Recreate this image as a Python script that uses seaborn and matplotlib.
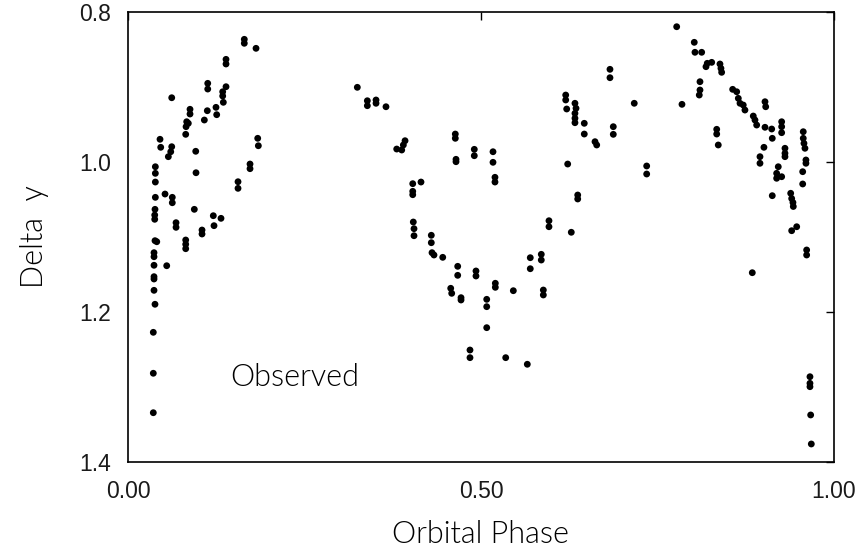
import matplotlib
matplotlib.use("Agg")
import matplotlib.pyplot as plt
import seaborn as sns
import pandas as pd

# ---- data ----
phase_left = [0.1647, 0.1647, 0.1813, 0.1388, 0.1388, 0.1129, 0.1129, 0.1388, 0.1341, 0.1341,
              0.1350, 0.0619, 0.0878, 0.0878, 0.1123, 0.1246, 0.1256, 0.1081, 0.0831, 0.0854,
              0.0822, 0.0817, 0.0453, 0.0463, 0.0619, 0.0605, 0.0571, 0.0959, 0.1837, 0.1846,
              0.0387, 0.0387, 0.0387, 0.0963, 0.1728, 0.1728, 0.1558, 0.1558, 0.0387, 0.0524,
              0.0627, 0.0627, 0.0382, 0.0939, 0.0378, 0.0378, 0.1208, 0.1317, 0.1218, 0.0680,
              0.0680, 0.1048, 0.1048, 0.0382, 0.0407, 0.0817, 0.0817, 0.0817, 0.0368, 0.0368,
              0.0368, 0.0548, 0.0368, 0.0368, 0.0368, 0.0382, 0.0358, 0.0358, 0.0358]
delta_left = [0.8364, 0.8417, 0.8484, 0.8631, 0.8693, 0.8951, 0.9027, 0.8996, 0.9063, 0.9120,
              0.9204, 0.9143, 0.9297, 0.9360, 0.9316, 0.9271, 0.9369, 0.9440, 0.9463, 0.9484,
              0.9529, 0.9631, 0.9697, 0.9804, 0.9796, 0.9863, 0.9929, 0.9857, 0.9684, 0.9783,
              1.0063, 1.0151, 1.0267, 1.0143, 1.0027, 1.0089, 1.0263, 1.0351, 1.0471, 1.0427,
              1.0471, 1.0543, 1.0631, 1.0631, 1.0707, 1.0764, 1.0716, 1.0751, 1.0849, 1.0809,
              1.0871, 1.0907, 1.0960, 1.1049, 1.1063, 1.1040, 1.1097, 1.1156, 1.1209, 1.1263,
              1.1377, 1.1383, 1.1529, 1.1560, 1.1711, 1.1897, 1.2271, 1.2817, 1.3343]

phase_mid = [0.3248, 0.3390, 0.3390, 0.3513, 0.3513, 0.3654, 0.3806, 0.3877, 0.3924, 0.3900,
             0.4636, 0.4636, 0.4646, 0.4646, 0.4905, 0.4905, 0.5170, 0.5170, 0.5198, 0.5198,
             0.4033, 0.4033, 0.4033, 0.4150, 0.4041, 0.4051, 0.4051, 0.4296, 0.4296, 0.4306,
             0.4334, 0.4458, 0.4670, 0.4670, 0.4929, 0.4929, 0.4571, 0.4585, 0.4717, 0.4717,
             0.5203, 0.5203, 0.5081, 0.5081, 0.5081, 0.4844, 0.4844, 0.5350, 0.5656, 0.5458,
             0.5698, 0.5698, 0.5854, 0.5854, 0.5883, 0.5883, 0.5963, 0.5963, 0.6200, 0.6200,
             0.6214, 0.6331, 0.6346, 0.6331, 0.6331, 0.6331, 0.6463, 0.6463, 0.6615, 0.6639,
             0.6228, 0.6370, 0.6370, 0.6279]
delta_mid = [0.9004, 0.9183, 0.9249, 0.9173, 0.9217, 0.9263, 0.9827, 0.9840, 0.9716, 0.9773,
             0.9627, 0.9684, 0.9964, 0.9996, 0.9831, 0.9916, 0.9863, 1.0004, 1.0204, 1.0267,
             1.0289, 1.0391, 1.0436, 1.0267, 1.0800, 1.0889, 1.0983, 1.0977, 1.1076, 1.1209,
             1.1240, 1.1271, 1.1391, 1.1511, 1.1453, 1.1520, 1.1684, 1.1751, 1.1809, 1.1840,
             1.1617, 1.1671, 1.1831, 1.1929, 1.2209, 1.2507, 1.2609, 1.2609, 1.2697, 1.1716,
             1.1276, 1.1423, 1.1231, 1.1307, 1.1707, 1.1773, 1.0783, 1.0863, 0.9107, 0.9173,
             0.9293, 0.9217, 0.9284, 0.9351, 0.9417, 0.9476, 0.9484, 0.9627, 0.9729, 0.9773,
             1.0027, 1.0440, 1.0493, 1.0937]

phase_right = [0.7772, 0.8021, 0.8031, 0.8126, 0.8187, 0.8205, 0.8268, 0.8385, 0.8399, 0.8409,
               0.8102, 0.8102, 0.8092, 0.6827, 0.6827, 0.7171, 0.7847, 0.6874, 0.6874, 0.7347,
               0.7347, 0.8339, 0.8339, 0.8361, 0.8565, 0.8622, 0.8645, 0.8669, 0.8715, 0.8739,
               0.9023, 0.9033, 0.8857, 0.8881, 0.8905, 0.9023, 0.9118, 0.9126, 0.9259, 0.9259,
               0.9259, 0.9008, 0.8952, 0.8952, 0.9306, 0.9306, 0.9306, 0.9211, 0.9188, 0.9188,
               0.9259, 0.9565, 0.9565, 0.9575, 0.9589, 0.9603, 0.9603, 0.9557, 0.9557, 0.9126,
               0.9387, 0.9401, 0.9419, 0.9424, 0.9401, 0.9472, 0.9613, 0.9613, 0.8843, 0.9660,
               0.9660, 0.9660, 0.9670, 0.9679]
delta_right = [0.8196, 0.8404, 0.8537, 0.8537, 0.8729, 0.8684, 0.8671, 0.8693, 0.8751, 0.8804,
               0.8929, 0.9040, 0.9107, 0.8764, 0.8876, 0.9217, 0.9231, 0.9529, 0.9631, 1.0053,
               1.0160, 0.9564, 0.9627, 0.9773, 0.9031, 0.9063, 0.9151, 0.9217, 0.9240, 0.9307,
               0.9196, 0.9263, 0.9387, 0.9440, 0.9507, 0.9537, 0.9560, 0.9684, 0.9463, 0.9529,
               0.9609, 0.9804, 0.9929, 1.0017, 0.9817, 0.9884, 0.9929, 1.0063, 1.0151, 1.0217,
               1.0196, 0.9596, 0.9684, 0.9751, 0.9817, 0.9973, 1.0017, 1.0129, 1.0293, 1.0449,
               1.0417, 1.0487, 1.0540, 1.0593, 1.0916, 1.0863, 1.1173, 1.1240, 1.1476, 1.2863,
               1.2951, 1.2996, 1.3373, 1.3760]

x_ticks = [0.0, 0.5, 1.0]
x_ticklabels = ["0.00", "0.50", "1.00"]
y_ticks = [0.8, 1.0, 1.2, 1.4]
y_ticklabels = ["0.8", "1.0", "1.2", "1.4"]
x_label = "Orbital Phase"
y_label = "Delta  y"
annotation = "Observed"

df = pd.DataFrame({
    "phase": phase_left + phase_mid + phase_right,
    "delta": delta_left + delta_mid + delta_right,
})

sns.set_theme(style="white")
plt.rcParams["font.family"] = ["Lato", "DejaVu Sans"]
plt.rcParams["text.color"] = "black"
plt.rcParams["axes.labelcolor"] = "black"

fig = plt.figure(figsize=(8.61, 5.49), dpi=100)
ax = fig.add_axes([0.1487, 0.1585, 0.8199, 0.8196])

sns.scatterplot(data=df, x="phase", y="delta", ax=ax, color="black",
                s=24, edgecolor="none", linewidth=0, legend=False)

ax.set_xlim(0.0, 1.0)
ax.set_ylim(1.4, 0.8)
ax.set_xticks(x_ticks)
ax.set_xticklabels(x_ticklabels)
ax.set_yticks(y_ticks)
ax.set_yticklabels(y_ticklabels)

ax.tick_params(axis="both", which="major", direction="in", length=6, width=1.0,
               color="black", top=True, right=True, labelsize=16.5, labelcolor="black")
ax.tick_params(axis="x", pad=13)
ax.tick_params(axis="y", pad=12)
for lab in ax.get_xticklabels() + ax.get_yticklabels():
    lab.set_family(["Liberation Sans", "DejaVu Sans"])
    lab.set_color("#1a1a1a")

for sp in ax.spines.values():
    sp.set_visible(True)
    sp.set_color("black")
    sp.set_linewidth(1.2)

ax.set_xlabel(x_label, fontsize=22, fontweight=300, color="black", labelpad=12)
ax.set_ylabel(y_label, fontsize=22, fontweight=300, color="black", labelpad=22)

ax.text(0.1445, 1.288, annotation, fontsize=22, fontweight=300, color="black",
        ha="left", va="center")

ax.grid(False)
fig.savefig("out.png", dpi=100, facecolor="white")
